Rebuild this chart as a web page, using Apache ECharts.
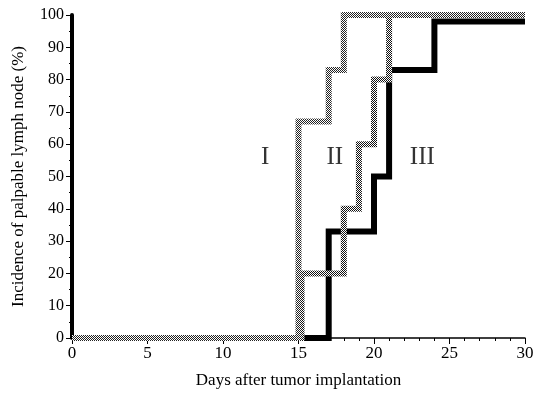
<!DOCTYPE html>
<html><head><meta charset="utf-8">
<script src="https://cdn.jsdelivr.net/npm/echarts@6/dist/echarts.min.js"></script>
<style>html,body{margin:0;padding:0;background:#fff}#c{width:539px;height:394px}</style>
</head><body><div id="c"></div>
<script>
// Step-change days and incidence (%) after each change
const daysI = [0, 15, 17, 18, 30];
const valsI = [0, 67, 83, 100, 100];
const daysII = [0, 15.2, 18, 19, 20, 21, 30];
const valsII = [0, 20, 40, 60, 80, 100, 100];
const daysIII = [0, 17, 20, 21, 24, 30];
const valsIII = [0, 33, 50, 83, 98, 98];
const groupLabels = ['I', 'II', 'III'];
const labelPos = [[12.8, 56], [17.4, 56], [23.2, 56]];

function pts(d, v) { return d.map((x, i) => [x, v[i]]); }
function checker(dark) {
  const c = document.createElement('canvas');
  c.width = 2; c.height = 2;
  const g = c.getContext('2d');
  g.fillStyle = '#fff'; g.fillRect(0, 0, 2, 2);
  g.fillStyle = dark; g.fillRect(0, 0, 1, 1); g.fillRect(1, 1, 1, 1);
  return c;
}
const patI = checker('#222');
const patII = checker('#111');
const font = '"Liberation Serif", "Times New Roman", serif';
const chart = echarts.init(document.getElementById('c'));
chart.setOption({
  animation: false,
  grid: { left: 72, right: 14, top: 15, bottom: 53 },
  xAxis: {
    type: 'value', min: 0, max: 30, interval: 5,
    name: 'Days after tumor implantation', nameLocation: 'middle', nameGap: 34,
    nameTextStyle: { fontFamily: font, fontSize: 17, color: '#000' },
    axisLine: { lineStyle: { color: '#000', width: 1.5 } },
    axisTick: { length: 6, lineStyle: { color: '#000' } },
    minorTick: { show: true, splitNumber: 5, length: 3, lineStyle: { color: '#000' } },
    axisLabel: { fontFamily: font, fontSize: 17, color: '#000', margin: 7 },
    splitLine: { show: false }
  },
  yAxis: {
    type: 'value', min: 0, max: 100, interval: 10,
    name: 'Incidence of palpable lymph node (%)', nameLocation: 'middle', nameGap: 45,
    nameTextStyle: { fontFamily: font, fontSize: 17, color: '#000' },
    axisLine: { show: true, lineStyle: { color: '#000', width: 4 } },
    axisTick: { length: 6, lineStyle: { color: '#000' } },
    minorTick: { show: true, splitNumber: 2, length: 3, lineStyle: { color: '#000' } },
    axisLabel: { fontFamily: font, fontSize: 16, color: '#000', margin: 8 },
    splitLine: { show: false }
  },
  series: [
    { type: 'line', step: 'end', data: pts(daysIII, valsIII), symbol: 'none', clip: false, z: 3,
      lineStyle: { color: '#000', width: 6, cap: 'butt', join: 'miter' } },
    { type: 'line', step: 'end', data: pts(daysII, valsII), symbol: 'none', clip: false, z: 4,
      lineStyle: { color: { image: patII, repeat: 'repeat' }, width: 6, cap: 'butt', join: 'miter' } },
    { type: 'line', step: 'end', data: pts(daysI, valsI), symbol: 'none', clip: false, z: 5,
      lineStyle: { color: { image: patI, repeat: 'repeat' }, width: 6, cap: 'butt', join: 'miter' } },
    { type: 'scatter', symbolSize: 0, z: 6, silent: true,
      data: groupLabels.map((t, i) => ({ value: labelPos[i], name: t })),
      label: { show: true, position: 'inside', formatter: p => p.name,
        fontFamily: font, fontSize: 25, color: '#000' } }
  ]
});
</script></body></html>
